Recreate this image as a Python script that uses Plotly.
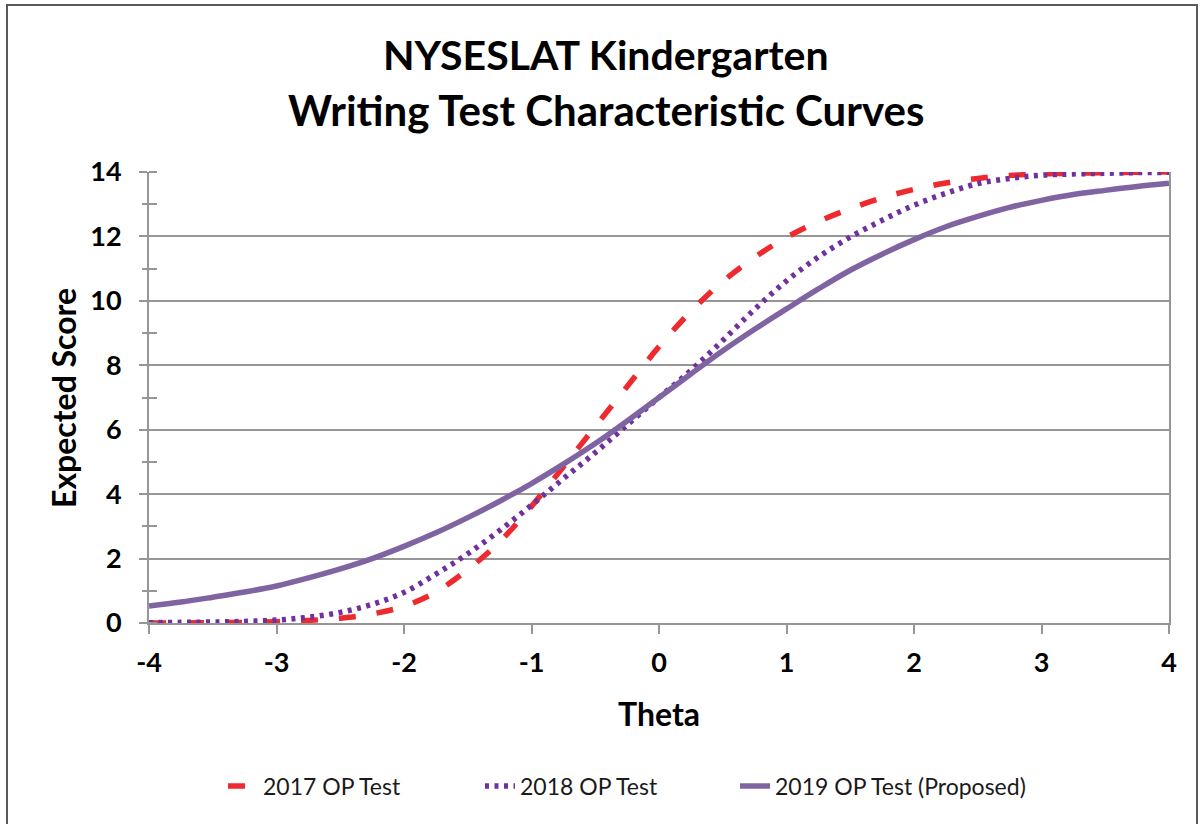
import plotly.graph_objects as go

theta = [-4, -3.75, -3.5, -3.25, -3, -2.75, -2.5, -2.25, -2, -1.75, -1.5, -1.25, -1,
         -0.75, -0.5, -0.25, 0, 0.25, 0.5, 0.75, 1, 1.25, 1.5, 1.75, 2, 2.25, 2.5,
         2.75, 3, 3.25, 3.5, 3.75, 4]

op_2017 = [0.00, 0.00, 0.01, 0.02, 0.04, 0.08, 0.15, 0.28, 0.52, 0.96, 1.66, 2.52, 3.62,
           4.85, 6.10, 7.34, 8.58, 9.67, 10.60, 11.35, 11.97, 12.46, 12.86, 13.20, 13.46,
           13.66, 13.80, 13.89, 13.94, 13.96, 13.98, 13.99, 14.00]

op_2018 = [0.01, 0.02, 0.03, 0.05, 0.09, 0.18, 0.33, 0.58, 0.95, 1.52, 2.15, 2.87, 3.66,
           4.48, 5.29, 6.15, 7.00, 7.84, 8.77, 9.74, 10.62, 11.36, 11.98, 12.50, 12.97,
           13.34, 13.64, 13.80, 13.90, 13.94, 13.96, 13.98, 13.99]

op_2019 = [0.53, 0.65, 0.80, 0.96, 1.15, 1.40, 1.68, 2.00, 2.38, 2.80, 3.27, 3.78, 4.33,
           4.93, 5.57, 6.27, 7.00, 7.73, 8.45, 9.12, 9.75, 10.37, 10.95, 11.45, 11.90,
           12.30, 12.62, 12.90, 13.12, 13.30, 13.43, 13.55, 13.65]

series_names = ["2017 OP Test", "2018 OP Test", "2019 OP Test (Proposed)"]
x_tick_vals = [-4, -3, -2, -1, 0, 1, 2, 3, 4]
x_tick_labels = ["-4", "-3", "-2", "-1", "0", "1", "2", "3", "4"]
y_tick_vals = [0, 2, 4, 6, 8, 10, 12, 14]
title_lines = ["NYSESLAT Kindergarten", "Writing Test Characteristic Curves"]
x_title = "Theta"
y_title = "Expected Score"

FONT = "Lato, 'Open Sans', sans-serif"
GRID = "#969696"

fig = go.Figure()
fig.add_trace(go.Scatter(x=theta, y=op_2017, name=series_names[0], mode="lines", legend="legend",
                         line=dict(color="#EE2A2E", width=5.5, dash="17px,21px", shape="spline")))
fig.add_trace(go.Scatter(x=theta, y=op_2018, name=series_names[1], mode="lines", legend="legend2",
                         line=dict(color="#7030A0", width=5.5, dash="4px,5.5px", shape="spline")))
fig.add_trace(go.Scatter(x=theta, y=op_2019, name=series_names[2], mode="lines", legend="legend3",
                         line=dict(color="#8064A2", width=5.5, shape="spline")))

W, H = 1201, 824
L, R, T, B = 149, 1169, 172, 623

def px_x(p):
    return (p - L) / (R - L)

def px_y(p):
    return (B - p) / (B - T)

def leg(text_start):
    return dict(orientation="h", x=px_x(text_start - 40), xanchor="left", y=px_y(786),
                yanchor="middle", font=dict(family=FONT, size=23, color="#1a1a1a"),
                bgcolor="rgba(0,0,0,0)")

fig.update_layout(
    width=W, height=H,
    margin=dict(l=L, r=W - R, t=T, b=H - B),
    paper_bgcolor="white", plot_bgcolor="white",
    font=dict(family=FONT, color="black"),
    showlegend=True,
    legend=leg(263), legend2=leg(520), legend3=leg(775),
    xaxis=dict(range=[-4, 4], tickvals=x_tick_vals, ticktext=x_tick_labels,
               showgrid=False, zeroline=False, showline=True, linecolor=GRID, linewidth=2,
               ticks="outside", ticklen=9, tickwidth=2, tickcolor=GRID, ticklabelstandoff=6,
               tickfont=dict(family=FONT, size=27, weight="bold", color="black")),
    yaxis=dict(range=[0, 14], tickvals=y_tick_vals, showgrid=True, gridcolor=GRID, gridwidth=2,
               zeroline=False, showline=True, linecolor=GRID, linewidth=2, mirror=True,
               ticks="outside", ticklen=8, tickwidth=2, tickcolor=GRID, ticklabelstandoff=12,
               minor=dict(dtick=1, ticks="inside", ticklen=8, tickwidth=2, tickcolor=GRID, showgrid=False),
               tickfont=dict(family=FONT, size=27, weight="bold", color="black")),
    yaxis2=dict(range=[0, 14], overlaying="y", side="left", anchor="x", showgrid=False,
                zeroline=False, showline=False, showticklabels=False, ticks="",
                minor=dict(dtick=1, ticks="outside", ticklen=6, tickwidth=2, tickcolor=GRID, showgrid=False)),
)

# invisible trace to keep the overlay axis alive
fig.add_trace(go.Scatter(x=[theta[0]], y=[op_2019[0]], yaxis="y2", mode="lines",
                         showlegend=False, hoverinfo="skip", line=dict(color="rgba(0,0,0,0)")))

fig.add_annotation(text=title_lines[0], xref="paper", yref="paper", x=px_x(606), y=px_y(55),
                   showarrow=False, xanchor="center", yanchor="middle",
                   font=dict(family=FONT, size=41, weight="bold", color="black"))
fig.add_annotation(text=title_lines[1], xref="paper", yref="paper", x=px_x(606), y=px_y(110),
                   showarrow=False, xanchor="center", yanchor="middle",
                   font=dict(family=FONT, size=42, weight="bold", color="black"))
fig.add_annotation(text=x_title, xref="paper", yref="paper", x=px_x(659), y=px_y(713),
                   showarrow=False, xanchor="center", yanchor="middle",
                   font=dict(family=FONT, size=32, weight="bold", color="black"))
fig.add_annotation(text=y_title, xref="paper", yref="paper", x=px_x(63), y=px_y(398),
                   showarrow=False, xanchor="center", yanchor="middle", textangle=-90,
                   font=dict(family=FONT, size=32, weight="bold", color="black"))

fig.add_shape(type="rect", xref="paper", yref="paper",
              x0=px_x(7), x1=px_x(1197), y0=px_y(832), y1=px_y(5),
              line=dict(color="#595959", width=2), fillcolor="rgba(0,0,0,0)", layer="below")

fig.write_html("out.html", config={"displayModeBar": False},
               post_script="document.body.style.margin='0px';")
